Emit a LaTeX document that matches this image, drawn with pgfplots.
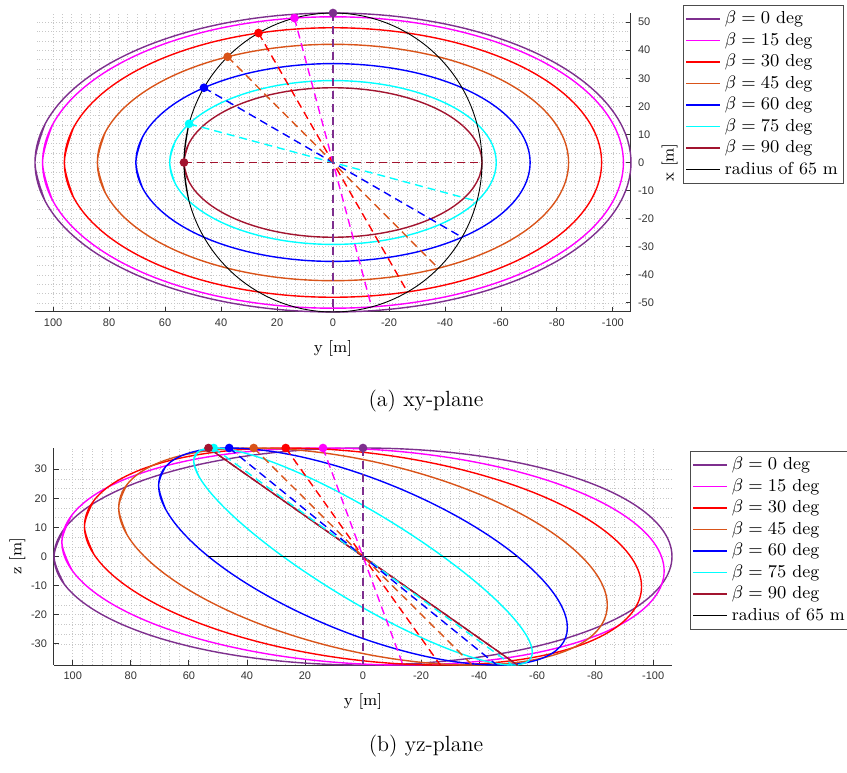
\documentclass[border=0pt]{standalone}
\usepackage{fontspec}
\usepackage{pgfplots}
\pgfplotsset{compat=1.18}
\newfontfamily\tickfont{Liberation Sans}

\definecolor{b0}{RGB}{126,47,142}
\definecolor{b15}{RGB}{255,0,255}
\definecolor{b30}{RGB}{255,0,0}
\definecolor{b45}{RGB}{217,83,25}
\definecolor{b60}{RGB}{0,0,255}
\definecolor{b75}{RGB}{0,255,255}
\definecolor{b90}{RGB}{162,20,47}

\pgfplotsset{
  planestyle/.style={
    scale only axis, x dir=reverse,
    xmin=-106.48, xmax=106.48,
    xtick={-100,-80,...,100},
    xticklabels={-100,-80,-60,-40,-20,0,20,40,60,80,100},
    tick label style={font=\fontsize{5.5}{6}\selectfont\tickfont, text=black!80},
    label style={font=\footnotesize},
    tick align=inside, major tick length=2.5pt, minor tick length=0pt,
    tick style={black!80, line width=0.4pt},
    axis line style={black!80, line width=0.5pt, -},
    grid=both, minor x tick num=5, minor y tick num=2,
    major grid style={densely dotted, black!22, line width=0.3pt},
    minor grid style={densely dotted, black!22, line width=0.3pt},
    clip=false,
    legend cell align=left,
    legend style={font=\fontsize{8.7}{10}\selectfont, draw=black!70, line width=0.4pt,
      anchor=north west, inner sep=1pt, row sep=-1pt},
    every axis plot/.append style={line width=0.7pt},
  },
  ell/.style={#1, smooth, tension=0.61},
  dsh/.style={#1, dashed, dash pattern=on 4pt off 2.5pt, forget plot},
  dot/.style={#1, only marks, mark=*, mark size=1.8pt, forget plot},
}

\begin{document}
\begin{tikzpicture}
\useasboundingbox (0,0) rectangle (423.5pt,-386pt);

% ---------- (a) xy-plane ----------
\begin{axis}[planestyle, at={(17.5pt,-6.5pt)}, anchor=north west,
  width=298pt, height=149.5pt,
  ymin=-53.24, ymax=53.24,
  ytick={-50,-40,...,50},
  yticklabels={-50,-40,-30,-20,-10,0,10,20,30,40,50},
  axis x line*=bottom, axis y line*=right,
  xlabel={y [m]}, ylabel={x [m]},
  ylabel style={yshift=3pt},
  legend style={at={(1,1)}, xshift=26pt, yshift=4pt}]

\addplot[ell=b0] coordinates {(102.85,-13.78) (106.48,0) (102.85,13.78) (92.21,26.62) (75.29,37.65) (53.24,46.11) (27.56,51.43) (0,53.24) (-27.56,51.43) (-53.24,46.11) (-75.29,37.65) (-92.21,26.62) (-102.85,13.78) (-106.48,0) (-102.85,-13.78) (-92.21,-26.62) (-75.29,-37.65) (-53.24,-46.11) (-27.56,-51.43) (0,-53.24) (27.56,-51.43) (53.24,-46.11) (75.29,-37.65) (92.21,-26.62) (102.85,-13.78) (106.48,0) (102.85,13.78)};
\addlegendentry{$\beta = 0$ deg}
\addplot[ell=b15] coordinates {(100.23,-13.43) (103.77,0) (100.23,13.43) (89.87,25.94) (73.38,36.69) (51.89,44.93) (26.86,50.12) (0,51.89) (-26.86,50.12) (-51.89,44.93) (-73.38,36.69) (-89.87,25.94) (-100.23,13.43) (-103.77,0) (-100.23,-13.43) (-89.87,-25.94) (-73.38,-36.69) (-51.89,-44.93) (-26.86,-50.12) (0,-51.89) (26.86,-50.12) (51.89,-44.93) (73.38,-36.69) (89.87,-25.94) (100.23,-13.43) (103.77,0) (100.23,13.43)};
\addlegendentry{$\beta = 15$ deg}
\addplot[ell=b30] coordinates {(92.71,-12.42) (95.98,0) (92.71,12.42) (83.12,24.00) (67.87,33.93) (47.99,41.56) (24.84,46.35) (0,47.99) (-24.84,46.35) (-47.99,41.56) (-67.87,33.93) (-83.12,24.00) (-92.71,12.42) (-95.98,0) (-92.71,-12.42) (-83.12,-24.00) (-67.87,-33.93) (-47.99,-41.56) (-24.84,-46.35) (0,-47.99) (24.84,-46.35) (47.99,-41.56) (67.87,-33.93) (83.12,-24.00) (92.71,-12.42) (95.98,0) (92.71,12.42)};
\addlegendentry{$\beta = 30$ deg}
\addplot[ell=b45] coordinates {(81.31,-10.89) (84.18,0) (81.31,10.89) (72.90,21.05) (59.52,29.76) (42.09,36.45) (21.79,40.66) (0,42.09) (-21.79,40.66) (-42.09,36.45) (-59.52,29.76) (-72.90,21.05) (-81.31,10.89) (-84.18,0) (-81.31,-10.89) (-72.90,-21.05) (-59.52,-29.76) (-42.09,-36.45) (-21.79,-40.66) (0,-42.09) (21.79,-40.66) (42.09,-36.45) (59.52,-29.76) (72.90,-21.05) (81.31,-10.89) (84.18,0) (81.31,10.89)};
\addlegendentry{$\beta = 45$ deg}
\addplot[ell=b60] coordinates {(68.03,-9.11) (70.43,0) (68.03,9.11) (60.99,17.61) (49.80,24.90) (35.22,30.50) (18.23,34.01) (0,35.22) (-18.23,34.01) (-35.22,30.50) (-49.80,24.90) (-60.99,17.61) (-68.03,9.11) (-70.43,0) (-68.03,-9.11) (-60.99,-17.61) (-49.80,-24.90) (-35.22,-30.50) (-18.23,-34.01) (0,-35.22) (18.23,-34.01) (35.22,-30.50) (49.80,-24.90) (60.99,-17.61) (68.03,-9.11) (70.43,0) (68.03,9.11)};
\addlegendentry{$\beta = 60$ deg}
\addplot[ell=b75] coordinates {(56.35,-7.55) (58.34,0) (56.35,7.55) (50.52,14.59) (41.25,20.63) (29.17,25.26) (15.10,28.18) (0,29.17) (-15.10,28.18) (-29.17,25.26) (-41.25,20.63) (-50.52,14.59) (-56.35,7.55) (-58.34,0) (-56.35,-7.55) (-50.52,-14.59) (-41.25,-20.63) (-29.17,-25.26) (-15.10,-28.18) (0,-29.17) (15.10,-28.18) (29.17,-25.26) (41.25,-20.63) (50.52,-14.59) (56.35,-7.55) (58.34,0) (56.35,7.55)};
\addlegendentry{$\beta = 75$ deg}
\addplot[ell=b90] coordinates {(51.43,-6.89) (53.24,0) (51.43,6.89) (46.11,13.31) (37.65,18.82) (26.62,23.05) (13.78,25.71) (0,26.62) (-13.78,25.71) (-26.62,23.05) (-37.65,18.82) (-46.11,13.31) (-51.43,6.89) (-53.24,0) (-51.43,-6.89) (-46.11,-13.31) (-37.65,-18.82) (-26.62,-23.05) (-13.78,-25.71) (0,-26.62) (13.78,-25.71) (26.62,-23.05) (37.65,-18.82) (46.11,-13.31) (51.43,-6.89) (53.24,0) (51.43,6.89)};
\addlegendentry{$\beta = 90$ deg}
\addplot[black, smooth, tension=0.61, line width=0.45pt] coordinates {(51.43,-13.78) (53.24,0) (51.43,13.78) (46.11,26.62) (37.65,37.65) (26.62,46.11) (13.78,51.43) (0,53.24) (-13.78,51.43) (-26.62,46.11) (-37.65,37.65) (-46.11,26.62) (-51.43,13.78) (-53.24,0) (-51.43,-13.78) (-46.11,-26.62) (-37.65,-37.65) (-26.62,-46.11) (-13.78,-51.43) (0,-53.24) (13.78,-51.43) (26.62,-46.11) (37.65,-37.65) (46.11,-26.62) (51.43,-13.78) (53.24,0) (51.43,13.78)};
\addlegendentry{radius of 65 m}

% lines through the centre
\addplot[dsh=b90] coordinates {(53.24,0) (-53.24,0)};
\addplot[dsh=b75] coordinates {(51.43,13.78) (-51.43,-13.78)};
\addplot[dsh=b60] coordinates {(46.11,26.62) (-46.11,-26.62)};
\addplot[dsh=b45] coordinates {(37.65,37.65) (-37.65,-37.65)};
\addplot[dsh=b30] coordinates {(26.62,46.11) (-26.62,-46.11)};
\addplot[dsh=b15] coordinates {(13.78,51.43) (-13.78,-51.43)};
\addplot[dsh=b0] coordinates {(0,53.24) (0,-53.24)};
% points on the circle
\addplot[dot=b0] coordinates {(0,53.24)};
\addplot[dot=b15] coordinates {(13.78,51.43)};
\addplot[dot=b30] coordinates {(26.62,46.11)};
\addplot[dot=b45] coordinates {(37.65,37.65)};
\addplot[dot=b60] coordinates {(46.11,26.62)};
\addplot[dot=b75] coordinates {(51.43,13.78)};
\addplot[dot=b90] coordinates {(53.24,0)};
\end{axis}

% ---------- (b) yz-plane ----------
\begin{axis}[planestyle, at={(27pt,-224pt)}, anchor=north west,
  width=309pt, height=108.5pt,
  ymin=-37.28, ymax=37.28,
  ytick={-30,-20,...,30},
  yticklabels={-30,-20,-10,0,10,20,30},
  axis x line*=bottom, axis y line*=left,
  xlabel={y [m]}, ylabel={z [m]},
  ylabel style={yshift=-4pt},
  legend style={at={(1,1)}, xshift=9pt, yshift=-1.5pt}]

\addplot[ell=b0] coordinates {(102.85,-9.65) (106.48,0) (102.85,9.65) (92.21,18.64) (75.29,26.36) (53.24,32.29) (27.56,36.01) (0,37.28) (-27.56,36.01) (-53.24,32.29) (-75.29,26.36) (-92.21,18.64) (-102.85,9.65) (-106.48,0) (-102.85,-9.65) (-92.21,-18.64) (-75.29,-26.36) (-53.24,-32.29) (-27.56,-36.01) (0,-37.28) (27.56,-36.01) (53.24,-32.29) (75.29,-26.36) (92.21,-18.64) (102.85,-9.65) (106.48,0) (102.85,9.65)};
\addlegendentry{$\beta = 0$ deg}
\addplot[ell=b15] coordinates {(100.23,-4.78) (103.77,4.95) (100.23,14.34) (89.87,22.76) (73.38,29.63) (51.89,34.47) (26.86,36.97) (0,36.95) (-26.86,34.41) (-51.89,29.52) (-73.38,22.63) (-89.87,14.19) (-100.23,4.78) (-103.77,-4.95) (-100.23,-14.34) (-89.87,-22.76) (-73.38,-29.63) (-51.89,-34.47) (-26.86,-36.97) (0,-36.95) (26.86,-34.41) (51.89,-29.52) (73.38,-22.63) (89.87,-14.19) (100.23,-4.78) (103.77,4.95) (100.23,14.34)};
\addlegendentry{$\beta = 15$ deg}
\addplot[ell=b30] coordinates {(92.71,0.72) (95.98,10.34) (92.71,19.26) (83.12,26.86) (67.87,32.64) (47.99,36.19) (24.84,37.27) (0,35.82) (-24.84,31.92) (-47.99,25.85) (-67.87,18.02) (-83.12,8.95) (-92.71,-0.72) (-95.98,-10.34) (-92.71,-19.26) (-83.12,-26.86) (-67.87,-32.64) (-47.99,-36.19) (-24.84,-37.27) (0,-35.82) (24.84,-31.92) (47.99,-25.85) (67.87,-18.02) (83.12,-8.95) (92.71,0.72) (95.98,10.34) (92.71,19.26)};
\addlegendentry{$\beta = 30$ deg}
\addplot[ell=b45] coordinates {(81.31,7.47) (84.18,16.67) (81.31,24.73) (72.90,31.11) (59.52,35.37) (42.09,37.21) (21.79,36.52) (0,33.34) (-21.79,27.89) (-42.09,20.54) (-59.52,11.79) (-72.90,2.23) (-81.31,-7.47) (-84.18,-16.67) (-81.31,-24.73) (-72.90,-31.11) (-59.52,-35.37) (-42.09,-37.21) (-21.79,-36.52) (0,-33.34) (21.79,-27.89) (42.09,-20.54) (59.52,-11.79) (72.90,-2.23) (81.31,7.47) (84.18,16.67) (81.31,24.73)};
\addlegendentry{$\beta = 45$ deg}
\addplot[ell=b60] coordinates {(68.03,16.28) (70.43,24.41) (68.03,30.87) (60.99,35.23) (49.80,37.19) (35.22,36.61) (18.23,33.54) (0,28.18) (-18.23,20.90) (-35.22,12.20) (-49.80,2.67) (-60.99,-7.05) (-68.03,-16.28) (-70.43,-24.41) (-68.03,-30.87) (-60.99,-35.23) (-49.80,-37.19) (-35.22,-36.61) (-18.23,-33.54) (0,-28.18) (18.23,-20.90) (35.22,-12.20) (49.80,-2.67) (60.99,7.05) (68.03,16.28) (70.43,24.41) (68.03,30.87)};
\addlegendentry{$\beta = 60$ deg}
\addplot[ell=b75] coordinates {(56.35,27.18) (58.34,32.86) (56.35,36.30) (50.52,37.26) (41.25,35.69) (29.17,31.68) (15.10,25.51) (0,17.61) (-15.10,8.50) (-29.17,-1.18) (-41.25,-10.78) (-50.52,-19.65) (-56.35,-27.18) (-58.34,-32.86) (-56.35,-36.30) (-50.52,-37.26) (-41.25,-35.69) (-29.17,-31.68) (-15.10,-25.51) (0,-17.61) (15.10,-8.50) (29.17,1.18) (41.25,10.78) (50.52,19.65) (56.35,27.18) (58.34,32.86) (56.35,36.30)};
\addlegendentry{$\beta = 75$ deg}
\addplot[b90] coordinates {(53.24,37.28) (-53.24,-37.28)};
\addlegendentry{$\beta = 90$ deg}
\addplot[black, line width=0.45pt] coordinates {(53.24,0) (-53.24,0)};
\addlegendentry{radius of 65 m}

\addplot[dsh=b90] coordinates {(53.24,37.28) (-53.24,-37.28)};
\addplot[dsh=b75] coordinates {(51.43,37.28) (-51.43,-37.28)};
\addplot[dsh=b60] coordinates {(46.11,37.28) (-46.11,-37.28)};
\addplot[dsh=b45] coordinates {(37.65,37.28) (-37.65,-37.28)};
\addplot[dsh=b30] coordinates {(26.62,37.28) (-26.62,-37.28)};
\addplot[dsh=b15] coordinates {(13.78,37.28) (-13.78,-37.28)};
\addplot[dsh=b0] coordinates {(0,37.28) (0,-37.28)};
\addplot[dot=b0] coordinates {(0,37.28)};
\addplot[dot=b15] coordinates {(13.78,37.28)};
\addplot[dot=b30] coordinates {(26.62,37.28)};
\addplot[dot=b45] coordinates {(37.65,37.28)};
\addplot[dot=b60] coordinates {(46.11,37.28)};
\addplot[dot=b75] coordinates {(51.43,37.28)};
\addplot[dot=b90] coordinates {(53.24,37.28)};
\end{axis}

\node[font=\fontsize{11}{13}\selectfont] at (213pt,-200.5pt) {(a) xy-plane};
\node[font=\fontsize{11}{13}\selectfont] at (213pt,-373pt) {(b) yz-plane};
\end{tikzpicture}
\end{document}
